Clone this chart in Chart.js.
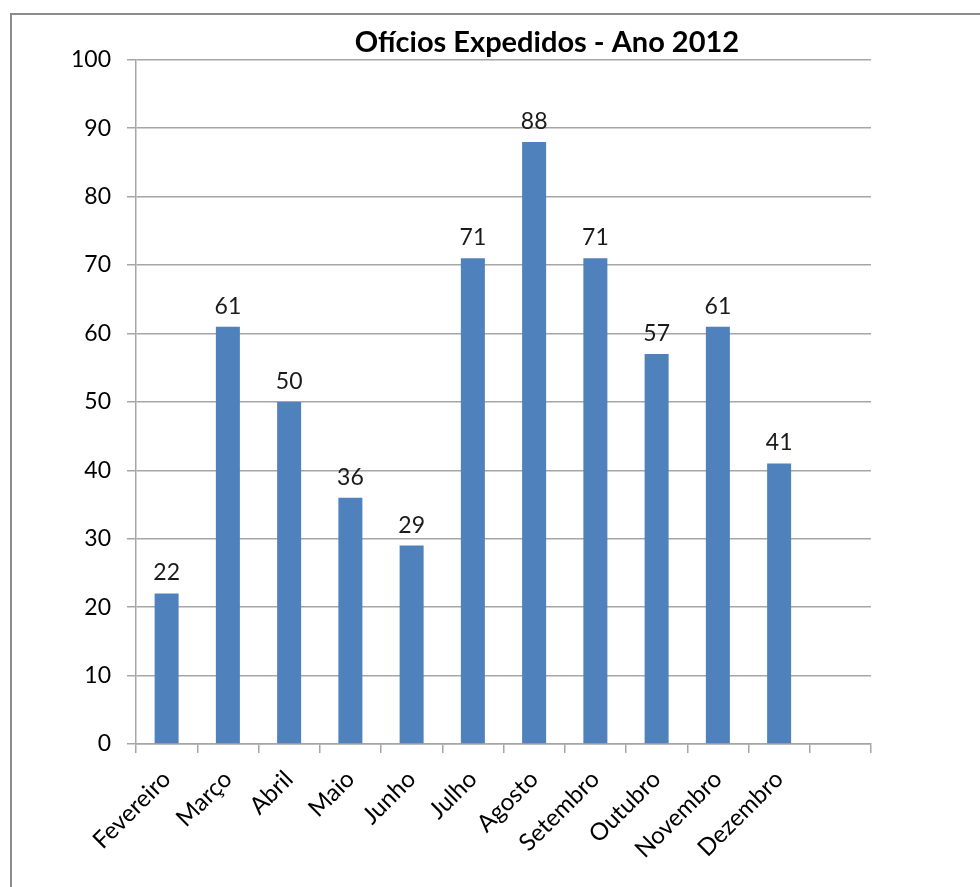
<!DOCTYPE html>
<html>
<head>
<meta charset="utf-8">
<title>Ofícios Expedidos - Ano 2012</title>
<script src="https://cdn.jsdelivr.net/npm/chart.js@4"></script>
<style>
  html, body { margin: 0; padding: 0; background: #fff; overflow: hidden; }
  .frame {
    position: absolute; left: 10px; top: 13px;
    width: 1070px; height: 900px;
    border: 2px solid #8c8c8c;
  }
  canvas { display: block; }
</style>
</head>
<body>
<div class="frame"><canvas id="chart" width="1070" height="900"></canvas></div>
<script>
// meses e quantidade de ofícios (última coluna fica vazia)
const meses = ['Fevereiro', 'Março', 'Abril', 'Maio', 'Junho', 'Julho', 'Agosto',
  'Setembro', 'Outubro', 'Novembro', 'Dezembro', ''];
const oficios = [22, 61, 50, 36, 29, 71, 88, 71, 57, 61, 41, null];
const tituloGrafico = 'Ofícios Expedidos - Ano 2012';

const fonte = 'Lato, "Open Sans", sans-serif';
const corGrade = '#a6a6a6';

// escreve o valor acima de cada barra
const rotulosValor = {
  id: 'rotulosValor',
  afterDatasetsDraw(chart) {
    const ctx = chart.ctx;
    const meta = chart.getDatasetMeta(0);
    ctx.save();
    ctx.font = '23px ' + fonte;
    ctx.fillStyle = '#1a1a1a';
    ctx.textAlign = 'center';
    ctx.textBaseline = 'alphabetic';
    meta.data.forEach((bar, i) => {
      if (oficios[i] == null) return;
      ctx.fillText(String(oficios[i]), bar.x, bar.y - 13);
    });
    ctx.restore();
  }
};

const ctx = document.getElementById('chart').getContext('2d');
new Chart(ctx, {
  type: 'bar',
  data: {
    labels: meses,
    datasets: [{
      label: 'Ofícios',
      data: oficios,
      backgroundColor: '#4f81bd',
      borderWidth: 0,
      categoryPercentage: 0.8,
      barPercentage: 0.49,
    }],
  },
  options: {
    responsive: false,
    animation: false,
    layout: { padding: { left: 0, right: 0, top: 0, bottom: 11 } },
    plugins: {
      legend: { display: false },
      tooltip: { enabled: false },
      title: {
        display: true,
        text: tituloGrafico,
        color: '#000',
        font: { family: fonte, size: 29, weight: 'bold' },
        padding: { top: 10, bottom: 0 },
      },
    },
    scales: {
      x: {
        grid: {
          offset: true,
          drawOnChartArea: false,
          drawTicks: true,
          tickLength: 9,
          color: corGrade,
          lineWidth: 1.5,
        },
        border: { color: corGrade, width: 1.5 },
        ticks: {
          color: '#000',
          font: { family: fonte, size: 24 },
          maxRotation: 45,
          minRotation: 45,
          autoSkip: false,
          padding: 12,
        },
        afterFit(scale) { scale.height = 160; },
      },
      y: {
        min: 0,
        max: 100,
        grid: { color: corGrade, lineWidth: 1.5, tickLength: 9 },
        border: { color: corGrade, width: 1.5 },
        ticks: {
          stepSize: 10,
          color: '#000',
          font: { family: fonte, size: 23 },
          padding: 16,
        },
        afterFit(scale) { scale.width = 124; },
      },
      // coluna vazia à direita do gráfico, só ocupa espaço
      margemDireita: {
        type: 'linear',
        position: 'right',
        min: 0,
        max: 100,
        grid: { display: false, drawTicks: false },
        border: { display: false },
        ticks: { display: false },
        afterFit(scale) { scale.width = 211; },
      },
    },
  },
  plugins: [rotulosValor],
});
</script>
</body>
</html>
